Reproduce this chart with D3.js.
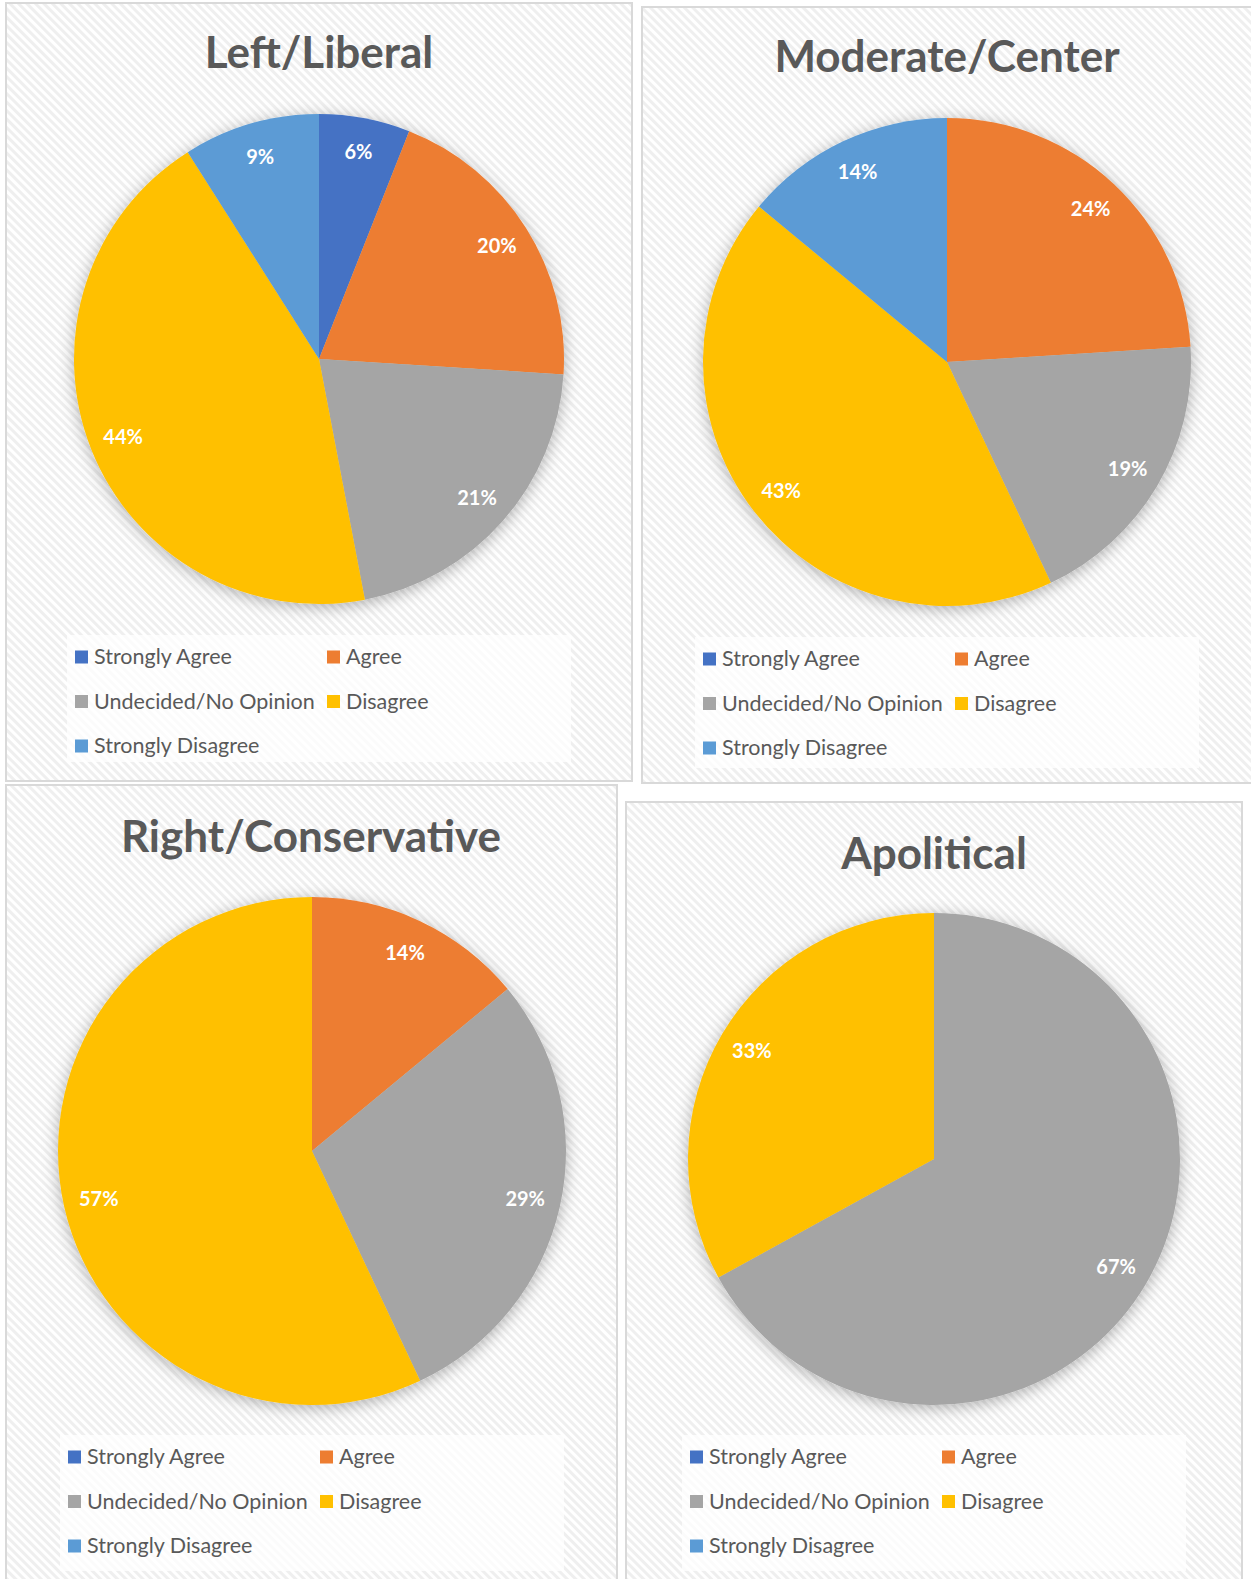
<!DOCTYPE html>
<html>
<head>
<meta charset="utf-8">
<script src="https://cdn.jsdelivr.net/npm/d3@7"></script>
<style>
  body { margin: 0; background: #fff; }
  svg text { font-family: Lato, "Open Sans", sans-serif; }
</style>
</head>
<body>
<div id="chart"></div>
<script>
// answer categories, same order in every panel
var categories = ["Strongly Agree", "Agree", "Undecided/No Opinion", "Disagree", "Strongly Disagree"];
var colors = ["#4472C4", "#ED7D31", "#A5A5A5", "#FFC000", "#5B9BD5"];
var titles = ["Left/Liberal", "Moderate/Center", "Right/Conservative", "Apolitical"];

// percent values per group
var leftLiberal       = [6, 20, 21, 44, 9];
var moderateCenter    = [0, 24, 19, 43, 14];
var rightConservative = [0, 14, 29, 57, 0];
var apolitical        = [0, 0, 67, 33, 0];

var values = [leftLiberal, moderateCenter, rightConservative, apolitical];

// where each little chart sits in the collage
var layout = [
    {box: [6, 3, 626, 778],     title: [319, 68],  pie: [319, 359, 245],  legend: [67, 635, 504, 127]},
    {box: [642, 7, 640, 776],   title: [947, 72],  pie: [947, 362, 244],  legend: [695, 637, 504, 131]},
    {box: [6, 785, 611, 820],   title: [311, 852], pie: [312, 1151, 254], legend: [60, 1435, 504, 136]},
    {box: [626, 802, 616, 800], title: [934, 869], pie: [934, 1159, 246], legend: [682, 1435, 504, 136]}
];

var W = 1251, H = 1579;

var svg = d3.select("#chart")
    .append("svg")
    .attr("width", W)
    .attr("height", H);

var defs = svg.append("defs");

var pattern = defs.append("pattern")
    .attr("id", "stripes")
    .attr("patternUnits", "userSpaceOnUse")
    .attr("width", 6)
    .attr("height", 6)
    .attr("patternTransform", "rotate(45)");
pattern.append("rect").attr("width", 6).attr("height", 6).attr("fill", "#ffffff");
pattern.append("rect").attr("width", 6).attr("height", 3).attr("fill", "#efefef");

var shadow = defs.append("filter")
    .attr("id", "pieShadow")
    .attr("x", "-20%").attr("y", "-20%")
    .attr("width", "140%").attr("height", "140%");
shadow.append("feDropShadow")
    .attr("dx", 0)
    .attr("dy", 3)
    .attr("stdDeviation", 8)
    .attr("flood-color", "#000")
    .attr("flood-opacity", 0.3);

var pie = d3.pie().sort(null).value(function(d) { return d; });

values.forEach(function(vals, i) {
    var L = layout[i];
    var g = svg.append("g").attr("class", "panel");

    // panel frame with striped fill
    g.append("rect")
        .attr("x", L.box[0])
        .attr("y", L.box[1])
        .attr("width", L.box[2])
        .attr("height", L.box[3])
        .attr("fill", "url(#stripes)")
        .attr("stroke", "#d9d9d9")
        .attr("stroke-width", 2);

    g.append("text")
        .attr("x", L.title[0])
        .attr("y", L.title[1])
        .attr("text-anchor", "middle")
        .attr("font-size", 44)
        .attr("font-weight", "bold")
        .attr("fill", "#595959")
        .text(titles[i]);

    var r = L.pie[2];
    var arc = d3.arc().innerRadius(0).outerRadius(r);
    var labelArc = d3.arc().innerRadius(r * 0.86).outerRadius(r * 0.86);

    var pg = g.append("g")
        .attr("transform", "translate(" + L.pie[0] + "," + L.pie[1] + ")");

    var arcs = pie(vals).filter(function(d) { return d.value > 0; });

    pg.append("g")
        .attr("filter", "url(#pieShadow)")
        .selectAll("path")
        .data(arcs)
        .enter()
        .append("path")
        .attr("d", arc)
        .attr("fill", function(d) { return colors[d.index]; });

    pg.selectAll("text.lbl")
        .data(arcs)
        .enter()
        .append("text")
        .attr("class", "lbl")
        .attr("transform", function(d) { return "translate(" + labelArc.centroid(d) + ")"; })
        .attr("text-anchor", "middle")
        .attr("dy", "0.35em")
        .attr("font-size", 20)
        .attr("font-weight", "bold")
        .attr("fill", "#ffffff")
        .text(function(d) { return d.value + "%"; });

    // legend
    var lg = g.append("g")
        .attr("transform", "translate(" + L.legend[0] + "," + L.legend[1] + ")");
    lg.append("rect")
        .attr("width", L.legend[2])
        .attr("height", L.legend[3])
        .attr("fill", "#ffffff")
        .attr("fill-opacity", 0.75);

    var item = lg.selectAll("g.item")
        .data(categories)
        .enter()
        .append("g")
        .attr("class", "item")
        .attr("transform", function(d, k) {
            var col = k % 2, row = Math.floor(k / 2);
            return "translate(" + (8 + col * 252) + "," + (21.5 + row * 44.5) + ")";
        });

    item.append("rect")
        .attr("x", 0)
        .attr("y", -6)
        .attr("width", 13)
        .attr("height", 13)
        .attr("fill", function(d, k) { return colors[k]; });

    item.append("text")
        .attr("x", 19)
        .attr("dy", "0.35em")
        .attr("font-size", 21.5)
        .attr("fill", "#595959")
        .text(function(d) { return d; });
});
</script>
</body>
</html>
